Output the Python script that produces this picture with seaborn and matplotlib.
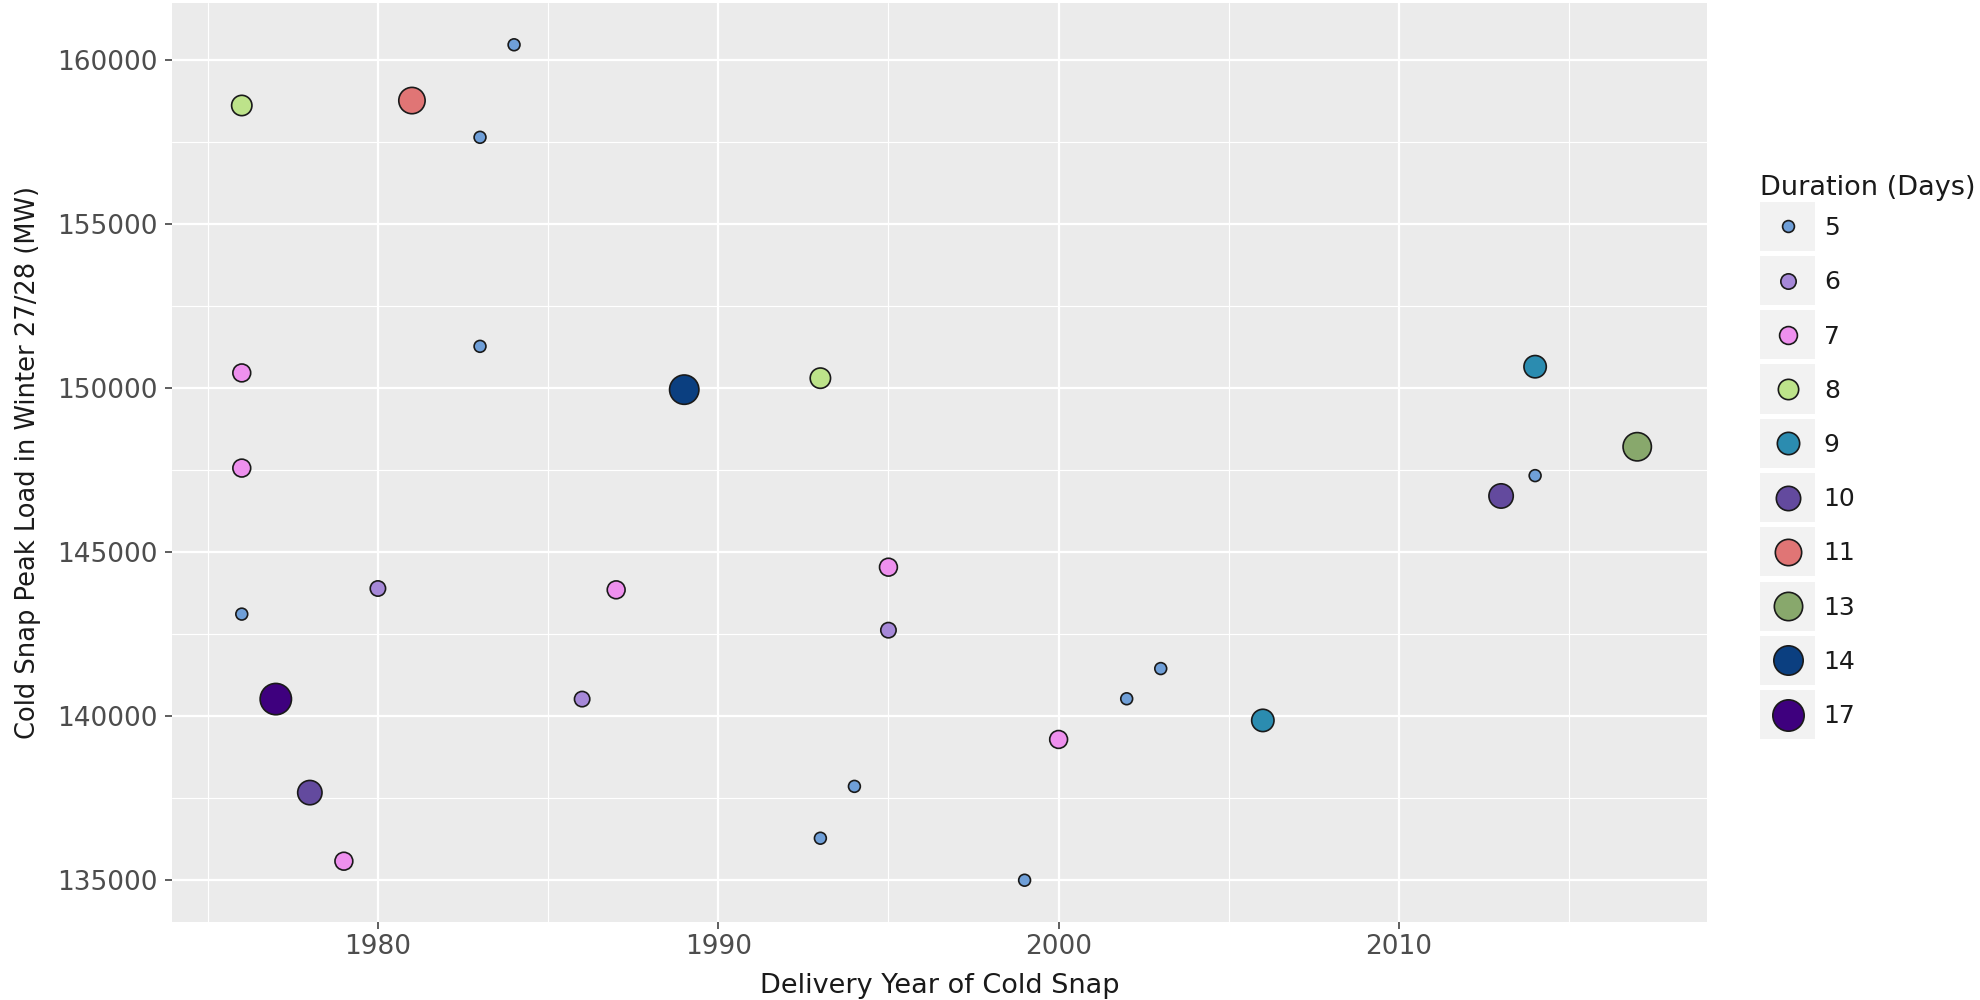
import numpy as np
import pandas as pd
import matplotlib
matplotlib.use("Agg")
import matplotlib.pyplot as plt
from matplotlib.lines import Line2D
from matplotlib.patches import Rectangle
from matplotlib.ticker import MultipleLocator
import seaborn as sns

# ---------------- data ----------------
delivery_year = [1976, 1981, 1984, 1983, 1983, 1976, 1976, 1989, 1993, 2014,
                 2017, 2014, 2013, 1995, 1980, 1987, 1976, 1995, 2003, 2002,
                 1977, 1986, 2006, 2000, 1978, 1994, 1993, 1979, 1999]
peak_load_mw = [158610, 158760, 160460, 157640, 151270, 150460, 147560, 149950, 150300, 150650,
                148210, 147330, 146710, 144540, 143890, 143850, 143110, 142620, 141450, 140530,
                140520, 140520, 139870, 139290, 137670, 137860, 136280, 135580, 135000]
duration_days = [8, 11, 5, 5, 5, 7, 7, 14, 8, 9,
                 13, 5, 10, 7, 6, 7, 5, 6, 5, 5,
                 17, 6, 9, 7, 10, 5, 5, 7, 5]

duration_levels = [5, 6, 7, 8, 9, 10, 11, 13, 14, 17]
level_colors = ["#6F9FD8", "#A688D8", "#EE90EE", "#BDE38A", "#2B8CB0",
                "#634A9E", "#E07575", "#88A86C", "#0B3F80", "#3E007E"]

# ---------------- style ----------------
sns.set_style("darkgrid", {"axes.facecolor": "#EBEBEB", "grid.color": "white"})
plt.rcParams["font.family"] = ["DejaVu Sans"]

DPI = 100
fig = plt.figure(figsize=(19.8, 10), dpi=DPI)
ax = fig.add_axes([172 / 1980, 78 / 1000, 1535 / 1980, 919 / 1000])

# marker diameters in px (outer) for each level -> areas in pt^2
diam_px = [13.5, 17, 19.5, 22, 24, 26, 28, 30, 31, 33]
edge_pt = 1.2
marker_pt = [(d - edge_pt * DPI / 72) * 72 / DPI for d in diam_px]
palette = dict(zip(duration_levels, level_colors))
sizes = {lv: m ** 2 for lv, m in zip(duration_levels, marker_pt)}

df = pd.DataFrame({"year": delivery_year, "load": peak_load_mw, "duration": duration_days})

sns.scatterplot(data=df, x="year", y="load", hue="duration", size="duration",
                hue_order=duration_levels, size_order=duration_levels,
                palette=palette, sizes=sizes, edgecolor="#1A1A1A",
                linewidth=edge_pt, alpha=1, legend=False, ax=ax, zorder=3)

# limits: 5% expansion like ggplot
xr = max(delivery_year) - min(delivery_year)
yr = max(peak_load_mw) - min(peak_load_mw)
ax.set_xlim(min(delivery_year) - 0.05 * xr, max(delivery_year) + 0.05 * xr)
ax.set_ylim(min(peak_load_mw) - 0.05 * yr, max(peak_load_mw) + 0.05 * yr)

ax.xaxis.set_major_locator(MultipleLocator(10))
ax.xaxis.set_minor_locator(MultipleLocator(5))
ax.yaxis.set_major_locator(MultipleLocator(5000))
ax.yaxis.set_minor_locator(MultipleLocator(2500))

ax.grid(which="major", color="white", linewidth=1.6)
ax.grid(which="minor", color="white", linewidth=0.8)
ax.set_axisbelow(True)
for s in ax.spines.values():
    s.set_visible(False)

ax.tick_params(which="major", length=4.7, width=1.1, color="#333333",
               labelcolor="#4D4D4D", labelsize=19, pad=4, bottom=True, left=True)
ax.tick_params(axis="y", which="major", pad=6)
ax.tick_params(which="minor", length=0, bottom=False, left=False)

ax.set_xlabel("Delivery Year of Cold Snap", fontsize=19.5, color="#1A1A1A", labelpad=9)
ax.set_ylabel("Cold Snap Peak Load in Winter 27/28 (MW)", fontsize=18.5, color="#1A1A1A", labelpad=11)

# ---------------- legend ----------------
handles = [Line2D([], [], linestyle="none", marker="o", markersize=m,
                  markerfacecolor=c, markeredgecolor="#1A1A1A", markeredgewidth=edge_pt)
           for m, c in zip(marker_pt, level_colors)]
labels = [str(v) for v in duration_levels]
leg = fig.legend(handles, labels, loc="upper left",
                 bbox_to_anchor=(1760 / 1980, 1 - 216 / 1000),
                 frameon=False, fontsize=18, labelspacing=1.21,
                 handlelength=2.2, handletextpad=0.35, borderpad=0,
                 borderaxespad=0, labelcolor="#1A1A1A")
fig.text(1760 / 1980, 1 - 188 / 1000, "Duration (Days)", fontsize=19.5,
         color="#1A1A1A", ha="left", va="center")

fig.canvas.draw()
renderer = fig.canvas.get_renderer()
inv = fig.transFigure.inverted()
for h in leg.legend_handles:
    bb = h.get_window_extent(renderer)
    cx = (bb.x0 + bb.x1) / 2
    cy = (bb.y0 + bb.y1) / 2
    w, hgt = 55, 49
    (x0, y0) = inv.transform((cx - w / 2, cy - hgt / 2))
    (x1, y1) = inv.transform((cx + w / 2, cy + hgt / 2))
    fig.patches.append(Rectangle((x0, y0), x1 - x0, y1 - y0, transform=fig.transFigure,
                                 facecolor="#F2F2F2", edgecolor="none", zorder=-1, figure=fig))

fig.savefig("out.png", dpi=DPI)
